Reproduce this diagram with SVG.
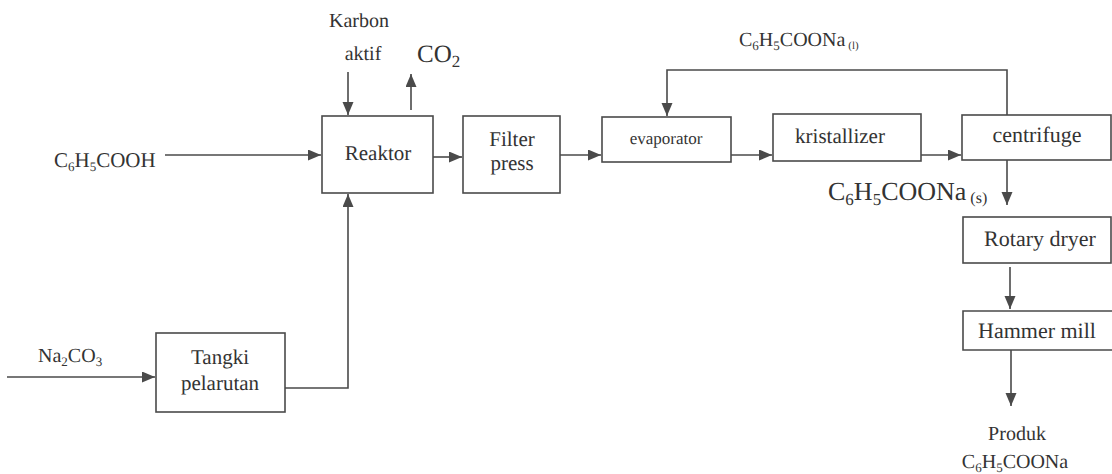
<svg xmlns="http://www.w3.org/2000/svg" width="1112" height="474" viewBox="0 0 1112 474" font-family="'Liberation Serif', 'Times New Roman', serif">
<defs>
<style>
.box{fill:#fff;stroke:#4a4a4a;stroke-width:1.6}
.ln{fill:none;stroke:#4a4a4a;stroke-width:1.6}
.t{font-family:'Liberation Serif','Times New Roman',serif;fill:#333;text-rendering:geometricPrecision}
.c{text-anchor:middle}
</style>
<marker id="ah" markerUnits="userSpaceOnUse" markerWidth="14" markerHeight="12" refX="13" refY="5.5" orient="auto">
<path d="M0,0 L13,5.5 L0,11 z" fill="#4a4a4a"/>
</marker>
</defs>
<rect width="1112" height="474" fill="#fff"/>

<g id="connectors">
<path class="ln" d="M165,155 H321" marker-end="url(#ah)"/>
<path class="ln" d="M348,72 V115" marker-end="url(#ah)"/>
<path class="ln" d="M411,110 V74" marker-end="url(#ah)"/>
<path class="ln" d="M7,377 H155" marker-end="url(#ah)"/>
<path class="ln" d="M285,388 H348 V194" marker-end="url(#ah)"/>
<path class="ln" d="M433,157 H462" marker-end="url(#ah)"/>
<path class="ln" d="M560,155 H601" marker-end="url(#ah)"/>
<path class="ln" d="M731,155 H772" marker-end="url(#ah)"/>
<path class="ln" d="M921,155 H961" marker-end="url(#ah)"/>
<path class="ln" d="M1007,115 V70 H667 V116" marker-end="url(#ah)"/>
<path class="ln" d="M1007,160 V205" marker-end="url(#ah)"/>
<path class="ln" d="M1010,267 V309" marker-end="url(#ah)"/>
<path class="ln" d="M1011,350 V406" marker-end="url(#ah)"/>
</g>

<g id="labels">
<text class="t" x="54" y="167" font-size="21">C<tspan font-size="13" dy="4">6</tspan><tspan dy="-4">H</tspan><tspan font-size="13" dy="4">5</tspan><tspan dy="-4">COOH</tspan></text>
<text class="t c" x="359" y="27" font-size="20">Karbon</text>
<text class="t c" x="363" y="60" font-size="20">aktif</text>
<text class="t" x="417" y="62" font-size="25">CO<tspan font-size="17" dy="5">2</tspan></text>
<text class="t" x="38" y="362" font-size="20">Na<tspan font-size="13" dy="4">2</tspan><tspan dy="-4">CO</tspan><tspan font-size="13" dy="4">3</tspan></text>
<text class="t" x="739" y="46" font-size="20">C<tspan font-size="13" dy="4">6</tspan><tspan dy="-4">H</tspan><tspan font-size="13" dy="4">5</tspan><tspan dy="-4">COONa</tspan><tspan font-size="11" dy="3" dx="3">(l)</tspan></text>
<text class="t" x="828" y="200" font-size="26">C<tspan font-size="17" dy="5">6</tspan><tspan dy="-5">H</tspan><tspan font-size="17" dy="5">5</tspan><tspan dy="-5">COONa</tspan><tspan font-size="16" dy="3" dx="4">(s)</tspan></text>
<text class="t c" x="1017" y="440" font-size="20">Produk</text>
<text class="t c" x="1015" y="468" font-size="20">C<tspan font-size="13" dy="4">6</tspan><tspan dy="-4">H</tspan><tspan font-size="13" dy="4">5</tspan><tspan dy="-4">COONa</tspan></text>
</g>

<g id="reaktor">
<rect class="box" x="322" y="116" width="111" height="77"/>
<text class="t c" x="378" y="160" font-size="21">Reaktor</text>
</g>
<g id="filter-press">
<rect class="box" x="463" y="116" width="97" height="77"/>
<text class="t c" x="512" y="146" font-size="21">Filter</text>
<text class="t c" x="512" y="170" font-size="21">press</text>
</g>
<g id="evaporator">
<rect class="box" x="602" y="117" width="129" height="45"/>
<text class="t c" x="666" y="144" font-size="17">evaporator</text>
</g>
<g id="kristallizer">
<rect class="box" x="773" y="114" width="148" height="47"/>
<text class="t c" x="840" y="143" font-size="21">kristallizer</text>
</g>
<g id="centrifuge">
<rect class="box" x="962" y="115" width="149" height="45"/>
<text class="t c" x="1037" y="142" font-size="22">centrifuge</text>
</g>
<g id="rotary-dryer">
<rect class="box" x="963" y="217" width="148" height="46"/>
<text class="t c" x="1040" y="246" font-size="22">Rotary dryer</text>
</g>
<g id="hammer-mill">
<path class="ln" d="M1112,311 H963 V350 H1112"/>
<text class="t c" x="1037" y="338" font-size="22">Hammer mill</text>
</g>
<g id="tangki-pelarutan">
<rect class="box" x="156" y="333" width="129" height="79"/>
<text class="t c" x="220" y="364" font-size="21">Tangki</text>
<text class="t c" x="220" y="390" font-size="21">pelarutan</text>
</g>
</svg>
